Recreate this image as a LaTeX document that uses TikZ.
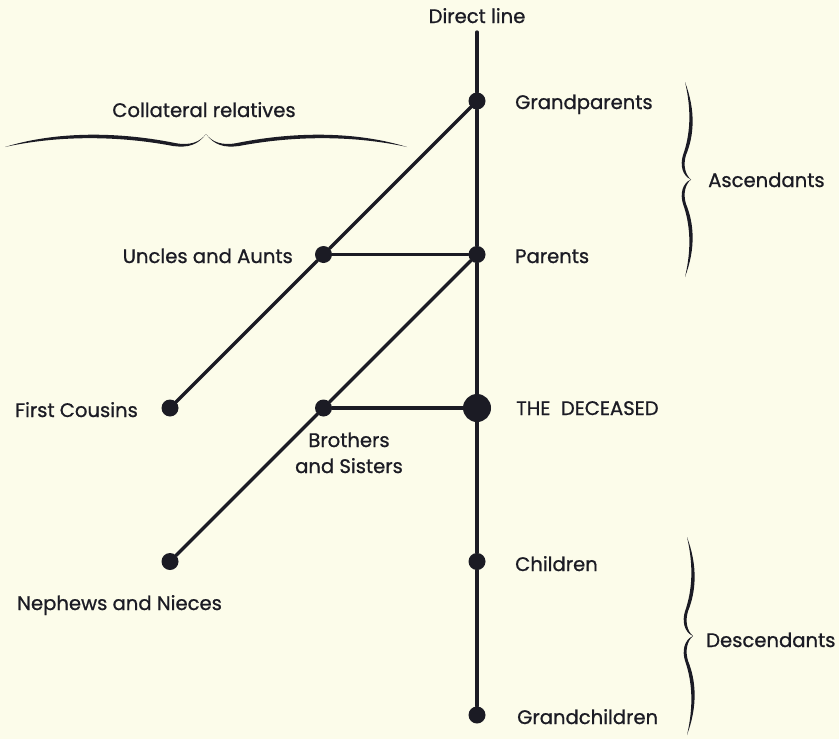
\documentclass[tikz,border=0pt]{standalone}
\usepackage{fontspec}
\setmainfont{Poppins}[UprightFeatures={FakeBold=0.9}]
\usetikzlibrary{positioning}
\definecolor{paper}{HTML}{FCFCEA}
\definecolor{ink}{HTML}{1B1B24}
\tikzset{
 chart/.style={x=1pt,y=-1pt,line cap=round,line join=round,
   every node/.style={text=ink,inner sep=0pt,font=\fontsize{19.6}{26}\selectfont}},
 dot/.style={circle,fill=ink,inner sep=0pt,minimum size=17pt},
 bigdot/.style={dot,minimum size=28pt},
 kin/.style={draw=ink,line width=3.3pt},
 kinlabel/.style={anchor=base west},
 vbrace/.pic={
   \fill[ink] (0,0) .. controls (11,30) and (9,55) .. (1,75)
     .. controls (-2,85) and (0,95) .. (6,100)
     .. controls (0,105) and (-2,115) .. (1,125)
     .. controls (9,145) and (11,170) .. (0,200)
     .. controls (7,170) and (5,145) .. (-2,125)
     .. controls (-5,115) and (-3,104) .. (6,100)
     .. controls (-3,96) and (-5,85) .. (-2,75)
     .. controls (5,55) and (7,30) .. (0,0) -- cycle;
 },
 hbrace/.pic={
   \fill[ink] (0,0) .. controls (45,-14) and (105,-17) .. (170,-4)
     .. controls (185,-1) and (195,-5) .. (201,-13)
     .. controls (207,-5) and (217,-1) .. (232,-4)
     .. controls (297,-17) and (357,-14) .. (402,0)
     .. controls (357,-10) and (297,-13) .. (234,-1)
     .. controls (219,1) and (209,-2) .. (201,-13)
     .. controls (193,-2) and (183,1) .. (168,-1)
     .. controls (105,-13) and (45,-10) .. (0,0) -- cycle;
 }
}

\begin{document}
\begin{tikzpicture}[chart]
 \fill[paper] (0,0) rectangle (839,739);
 \useasboundingbox (0,0) rectangle (839,739);
 % direct line
 \coordinate (top) at (477,32);
 \node[dot] (gp) at (477,101) {};
 \node[dot] (par) at (477,254.5) {};
 \node[bigdot] (dec) at (477,408) {};
 \node[dot] (ch) at (477,561.5) {};
 \node[dot] (gch) at (477,715) {};
 % collateral line
 \node[dot] (unc) at (323.5,254.5) {};
 \node[dot] (cous) at (170,408) {};
 \node[dot] (sib) at (323.5,408) {};
 \node[dot] (neph) at (170,561.5) {};
 \draw[kin] (top) -- (gp) -- (par) -- (dec) -- (ch) -- (gch);
 \draw[kin] (gp) -- (unc) -- (cous);
 \draw[kin] (par) -- (sib) -- (neph);
 \draw[kin] (unc) -- (par);
 \draw[kin] (sib) -- (dec);
 % labels
 \node[anchor=base] (dl) at (477,23) {Direct line};
 \node[kinlabel] (gpl) at (515,109) {Grandparents};
 \node[kinlabel] (parl) at (515,263) {Parents};
 \node[kinlabel] (decl) at (516,415) {THE\ \ DECEASED};
 \node[kinlabel] (chl) at (515,571) {Children};
 \node[kinlabel] (gchl) at (517,724) {Grandchildren};
 \node[anchor=base east] (uncl) at (293,263) {Uncles and Aunts};
 \node[kinlabel] (cousl) at (15,417) {First Cousins};
 \node[anchor=base,align=center] (sibl) at (349,473) {Brothers\\and Sisters};
 \node[kinlabel] (nephl) at (17,610) {Nephews and Nieces};
 % braces
 \pic at (5,147) {hbrace};
 \node[anchor=base] (coll) at (204,117) {Collateral relatives};
 \pic[yscale=.975] at (685,82) {vbrace};
 \node[kinlabel] (asc) at (708,187) {Ascendants};
 \pic[yscale=.99] at (687,537) {vbrace};
 \node[kinlabel] (desc) at (706,647) {Descendants};
\end{tikzpicture}
\end{document}
